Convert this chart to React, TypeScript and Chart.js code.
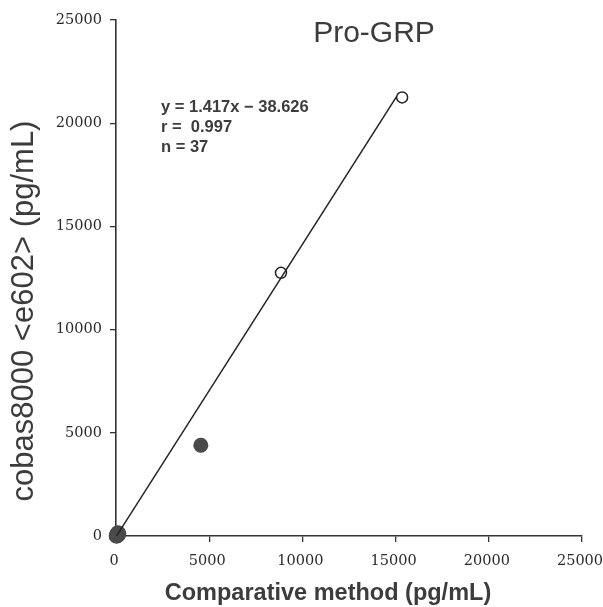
import React, { useEffect, useRef } from "react";
import { Chart, registerables } from "chart.js";

Chart.register(...registerables);

const TITLE = "Pro-GRP";
const X_TITLE = "Comparative method (pg/mL)";
const Y_TITLE = "cobas8000 <e602> (pg/mL)";
const STATS = ["y = 1.417x − 38.626", "r =  0.997", "n = 37"];
const SLOPE = 1.417;
const INTERCEPT = -38.626;
const LINE_X = [0, 15050];
const AXIS_MIN = 0;
const AXIS_MAX = 25000;
const AXIS_STEP = 5000;

// filled points (mostly clustered at origin)
const filledX = [10, 40, 60, 80, 100, 30, 120, 70, 150, 90, 50, 130, 20, 4550];
const filledY = [0, 30, 5, 50, 40, 60, 90, 100, 130, 160, 80, 60, 10, 4400];
// open circles
const openX = [8850, 15350];
const openY = [12750, 21250];

const textPlugin = {
  id: "texts",
  afterDraw(chart: any) {
    const ctx = chart.ctx;
    ctx.save();
    ctx.fillStyle = "#3c3c3c";
    ctx.font = "30px 'Liberation Sans', Arial, sans-serif";
    ctx.textAlign = "center";
    ctx.textBaseline = "middle";
    ctx.fillText(TITLE, 374, 34);
    ctx.font = "bold 16.5px 'Liberation Sans', Arial, sans-serif";
    ctx.textAlign = "left";
    STATS.forEach((s, i) => ctx.fillText(s, 161, 107 + i * 20));
    ctx.font = "bold 23.5px 'Liberation Sans', Arial, sans-serif";
    ctx.textAlign = "center";
    ctx.fillText(X_TITLE, 328, 594);
    ctx.translate(24, 311);
    ctx.rotate(-Math.PI / 2);
    ctx.font = "31px 'Liberation Sans', Arial, sans-serif";
    ctx.fillText(Y_TITLE, 0, 0);
    ctx.restore();
  },
};

export default function App() {
  const ref = useRef<HTMLCanvasElement>(null);
  useEffect(() => {
    const lineData = LINE_X.map((x) => ({ x, y: SLOPE * x + INTERCEPT }));
    const filled = filledX.map((x, i) => ({ x, y: filledY[i] }));
    const open = openX.map((x, i) => ({ x, y: openY[i] }));
    const tickCb = (v: any) => String(v);
    const chart = new Chart(ref.current!, {
      type: "scatter",
      data: {
        datasets: [
          {
            label: "regression",
            data: lineData,
            showLine: true,
            borderColor: "#222",
            borderWidth: 1.5,
            pointRadius: 0,
            fill: false,
          },
          {
            label: "filled",
            data: filled,
            backgroundColor: "#4a4a4a",
            borderColor: "#4a4a4a",
            pointRadius: 7.5,
            borderWidth: 0,
            clip: false,
          },
          {
            label: "open",
            data: open,
            backgroundColor: "#ffffff",
            borderColor: "#222",
            borderWidth: 1.5,
            pointRadius: 5.5,
            clip: false,
          },
        ],
      },
      options: {
        animation: false,
        responsive: false,
        layout: { padding: { top: 20, right: 21, left: 0, bottom: 0 } },
        plugins: { legend: { display: false }, tooltip: { enabled: false }, title: { display: false } },
        scales: {
          x: {
            type: "linear",
            min: AXIS_MIN,
            max: AXIS_MAX,
            afterFit: (s: any) => {
              s.height = 71;
              s.paddingRight = 0;
              s.paddingLeft = 0;
            },
            ticks: {
              stepSize: AXIS_STEP,
              color: "#2a2a2a",
              font: { family: "'DejaVu Serif', serif", size: 14.5 },
              padding: 11,
              maxRotation: 0,
              labelOffset: -2,
              callback: tickCb,
            },
            grid: { display: true, drawOnChartArea: false, drawTicks: true, tickLength: 6, color: "#333", lineWidth: 1.3 },
            border: { display: true, color: "#333", width: 1.6 },
          },
          y: {
            type: "linear",
            min: AXIS_MIN,
            max: AXIS_MAX,
            afterFit: (s: any) => {
              s.width = 116;
              s.paddingTop = 0;
              s.paddingBottom = 0;
            },
            ticks: {
              stepSize: AXIS_STEP,
              color: "#2a2a2a",
              font: { family: "'DejaVu Serif', serif", size: 14.5 },
              padding: 8,
              callback: tickCb,
            },
            grid: { display: true, drawOnChartArea: false, drawTicks: true, tickLength: 6, color: "#333", lineWidth: 1.3 },
            border: { display: true, color: "#333", width: 1.6 },
          },
        },
      },
      plugins: [textPlugin],
    });
    return () => chart.destroy();
  }, []);
  return (
    <div style={{ position: "fixed", left: 0, top: 0, width: 603, height: 607, background: "#fff" }}>
      <canvas ref={ref} width={603} height={607} style={{ display: "block" }} />
    </div>
  );
}
